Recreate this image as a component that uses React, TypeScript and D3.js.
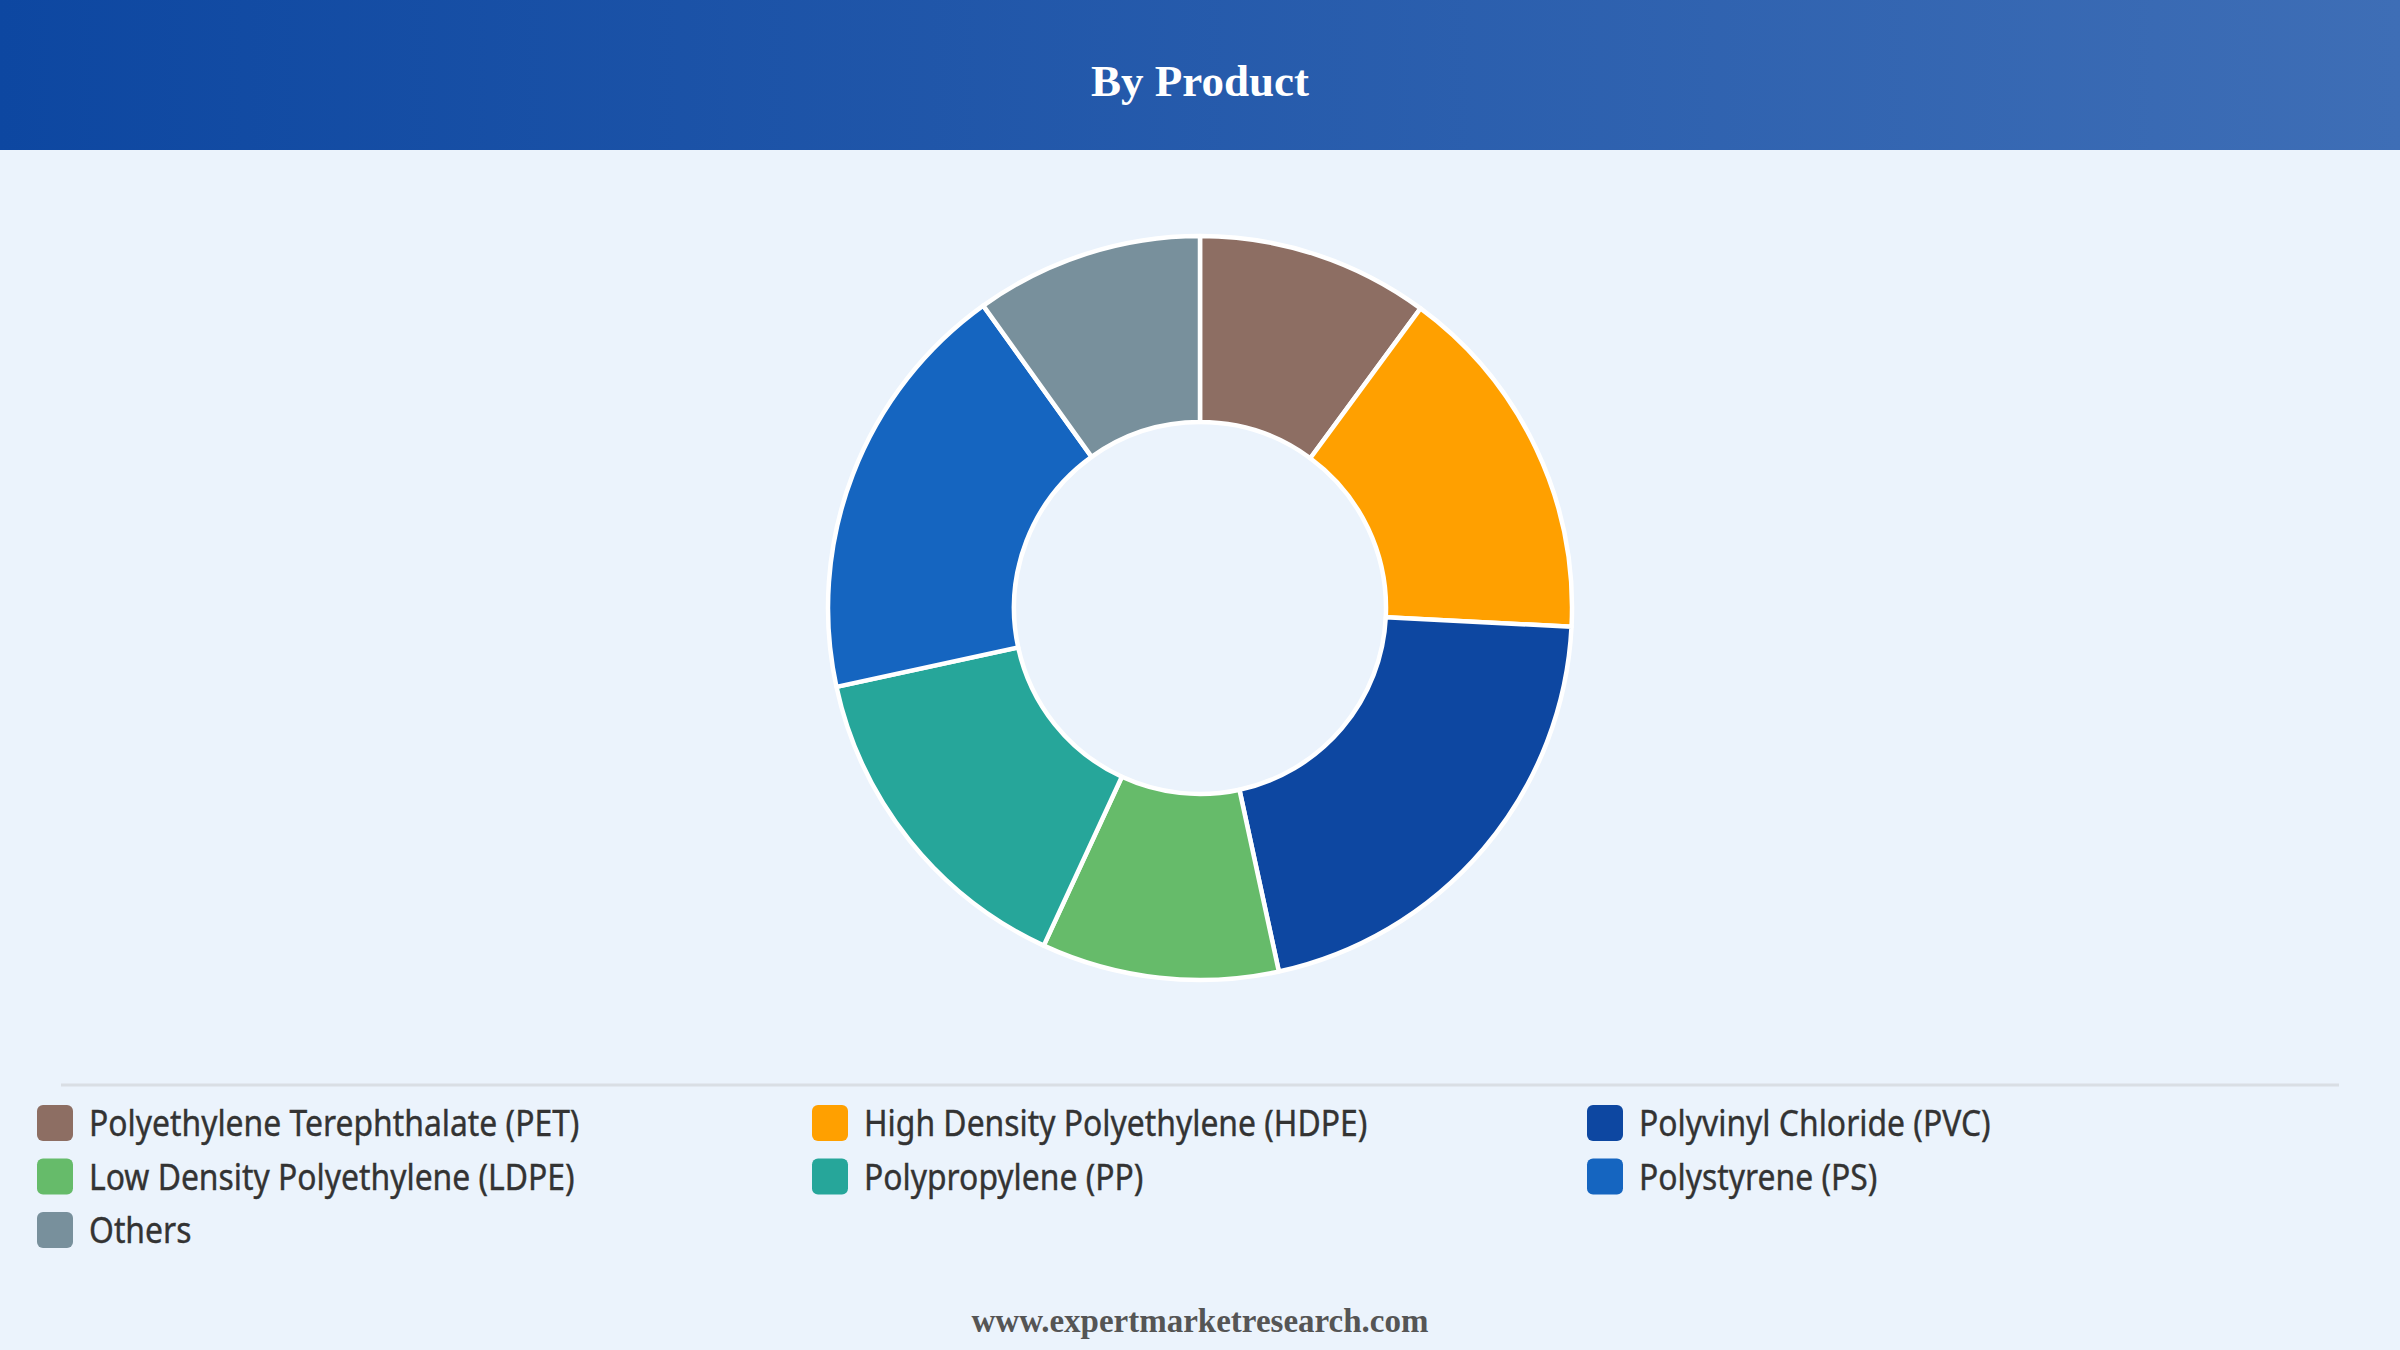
import React, { useEffect, useRef } from "react";
import * as d3 from "d3";

const categories = [
  "Polyethylene Terephthalate (PET)",
  "High Density Polyethylene (HDPE)",
  "Polyvinyl Chloride (PVC)",
  "Low Density Polyethylene (LDPE)",
  "Polypropylene (PP)",
  "Polystyrene (PS)",
  "Others",
];
const shares = [10.1, 15.7, 20.8, 10.3, 14.7, 18.5, 9.9];
const colors = ["#8d6e63", "#ffa000", "#0d47a1", "#66bb6a", "#26a69a", "#1565c0", "#78909c"];

const W = 2400;
const H = 1350;

export default function App() {
  const ref = useRef<SVGSVGElement>(null);

  useEffect(() => {
    document.body.style.margin = "0";
    const svg = d3.select(ref.current);
    svg.selectAll("*").remove();

    const defs = svg.append("defs");
    const grad = defs.append("linearGradient").attr("id", "hdr").attr("x1", "0").attr("x2", "1").attr("y1", "0").attr("y2", "0");
    grad.append("stop").attr("offset", "0").attr("stop-color", "#0d47a1");
    grad.append("stop").attr("offset", "1").attr("stop-color", "#3e6eb6");

    svg.append("rect").attr("width", W).attr("height", H).attr("fill", "#ebf3fc");
    svg.append("rect").attr("width", W).attr("height", 150).attr("fill", "url(#hdr)");
    svg.append("text")
      .attr("x", W / 2).attr("y", 96)
      .attr("text-anchor", "middle")
      .attr("font-family", "'Liberation Serif', 'Times New Roman', serif")
      .attr("font-weight", "bold")
      .attr("font-size", 45)
      .attr("fill", "#fff")
      .text("By Product");

    // donut
    const pie = d3.pie<number>().sort(null).value(d => d);
    const arc = d3.arc<d3.PieArcDatum<number>>().innerRadius(186).outerRadius(372);
    const g = svg.append("g").attr("transform", "translate(1200,608)");
    g.selectAll("path")
      .data(pie(shares))
      .enter()
      .append("path")
      .attr("d", arc)
      .attr("fill", (_, i) => colors[i])
      .attr("stroke", "#fff")
      .attr("stroke-width", 4.5)
      .attr("stroke-linejoin", "round");

    svg.append("line")
      .attr("x1", 61).attr("x2", 2339).attr("y1", 1085).attr("y2", 1085)
      .attr("stroke", "#d9dee4").attr("stroke-width", 3);

    // legend, 3 columns
    const col = d3.scaleOrdinal<number, number>().domain([0, 1, 2]).range([37, 812, 1587]);
    const row = d3.scaleLinear().domain([0, 1]).range([1123, 1176.5]);
    const items = svg.selectAll("g.item")
      .data(categories)
      .enter()
      .append("g")
      .attr("class", "item")
      .attr("transform", (_, i) => `translate(${col(i % 3)},${row(Math.floor(i / 3))})`);
    items.append("rect")
      .attr("x", 0).attr("y", -18).attr("width", 36).attr("height", 36).attr("rx", 6)
      .attr("fill", (_, i) => colors[i]);
    items.append("text")
      .attr("transform", "translate(52,0) scale(0.885,1)")
      .attr("y", 13)
      .attr("font-family", "'Noto Sans', sans-serif")
      .attr("font-size", 36)
      .attr("fill", "#333")
      .attr("stroke", "#333")
      .attr("stroke-width", 0.4)
      .text(d => d);

    svg.append("text")
      .attr("x", W / 2).attr("y", 1332)
      .attr("text-anchor", "middle")
      .attr("font-family", "'Liberation Serif', 'Times New Roman', serif")
      .attr("font-weight", "bold")
      .attr("font-size", 33)
      .attr("fill", "#555")
      .text("www.expertmarketresearch.com");
  }, []);

  return <svg ref={ref} width={W} height={H} style={{ display: "block" }} />;
}
